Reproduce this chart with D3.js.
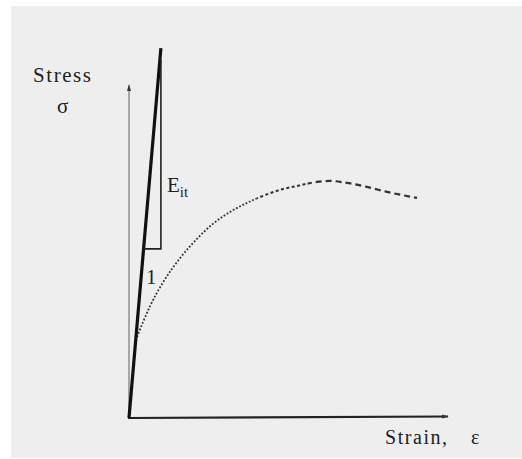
<!DOCTYPE html>
<html>
<head>
<meta charset="utf-8">
<script src="https://cdn.jsdelivr.net/npm/d3@7"></script>
<style>
  body { margin: 0; background: #fff; }
  text { font-family: "Liberation Serif", "Times New Roman", Times, "DejaVu Serif", serif; }
</style>
</head>
<body>
<div id="chart"></div>
<script>
var svgWidth = 522;
var svgHeight = 459;

// stress-strain curve (arbitrary units, 0..100)
var curveStrain = [2.5, 4.4, 6.6, 10.7, 16.0, 21.3, 26.3, 31.7, 37.0, 42.0, 47.3, 52.7, 58.9, 63.0, 68.3, 74.6, 80.9, 90.3];
var curveStress = [24.3, 28.8, 33.6, 40.8, 48.0, 53.8, 58.3, 61.9, 64.6, 66.7, 68.5, 69.7, 70.9, 71.2, 70.6, 69.4, 67.9, 66.1];

// initial tangent line E_it and its slope triangle
var tangentStrain = [0, 10.0];
var tangentStress = [0, 111.1];
var triStrain = [4.57, 10.0, 10.0];
var triStress = [50.8, 50.8, 107.5];

var svg = d3.select("#chart")
  .append("svg")
  .attr("width", svgWidth)
  .attr("height", svgHeight);

// scanned page background
svg.append("rect")
  .attr("x", 11).attr("y", 6)
  .attr("width", 511).attr("height", 452)
  .attr("fill", "#eeeeee");

var x = d3.scaleLinear().domain([0, 100]).range([129, 448]);
var y = d3.scaleLinear().domain([0, 100]).range([418, 85]);

var defs = svg.append("defs");
defs.append("marker")
  .attr("id", "arrow")
  .attr("viewBox", "0 0 10 10")
  .attr("refX", 9).attr("refY", 5)
  .attr("markerWidth", 7).attr("markerHeight", 7)
  .attr("markerUnits", "userSpaceOnUse")
  .attr("orient", "auto")
  .append("path")
  .attr("d", "M0,2 L10,5 L0,8 Z")
  .attr("fill", "#333");

// strain ranges with different dash styles (dotted rise, dashed near peak)
var parts = [
  { lo: 0, hi: 40, dash: "1.8,1.8", w: 1.8 },
  { lo: 40, hi: 56, dash: "3,2.5", w: 2 },
  { lo: 56, hi: 100, dash: "6,4", w: 2.2 }
];
parts.forEach(function(p, i) {
  defs.append("clipPath").attr("id", "clip" + i)
    .append("rect")
    .attr("x", x(p.lo)).attr("y", 0)
    .attr("width", x(p.hi) - x(p.lo)).attr("height", svgHeight);
});

// axes
svg.append("line")
  .attr("x1", x(0)).attr("y1", y(0))
  .attr("x2", x(0)).attr("y2", y(100))
  .attr("stroke", "#777").attr("stroke-width", 1.2)
  .attr("marker-end", "url(#arrow)");

svg.append("line")
  .attr("x1", x(0) - 1).attr("y1", y(0))
  .attr("x2", x(100)).attr("y2", y(0) - 1.5)
  .attr("stroke", "#222").attr("stroke-width", 2.2)
  .attr("marker-end", "url(#arrow)");

var line = d3.line()
  .x(d => x(d[0]))
  .y(d => y(d[1]))
  .curve(d3.curveMonotoneX);

var curvePts = curveStrain.map((s, i) => [s, curveStress[i]]);

parts.forEach(function(p, i) {
  svg.append("path")
    .attr("d", line(curvePts))
    .attr("clip-path", "url(#clip" + i + ")")
    .attr("fill", "none")
    .attr("stroke", "#333")
    .attr("stroke-width", p.w)
    .attr("stroke-dasharray", p.dash);
});

// initial tangent
svg.append("line")
  .attr("x1", x(tangentStrain[0])).attr("y1", y(tangentStress[0]))
  .attr("x2", x(tangentStrain[1])).attr("y2", y(tangentStress[1]))
  .attr("stroke", "#111").attr("stroke-width", 3.2);

// slope triangle
svg.append("path")
  .attr("d", d3.line()(triStrain.map((s, i) => [x(s), y(triStress[i])])))
  .attr("fill", "none")
  .attr("stroke", "#222").attr("stroke-width", 1.6);

// labels
function label(tx, ty, size, str) {
  return svg.append("text")
    .attr("x", tx).attr("y", ty)
    .attr("font-size", size)
    .attr("fill", "#222")
    .text(str);
}
label(33, 82, 21, "Stress").attr("textLength", 58).attr("lengthAdjust", "spacing");
label(57, 113, 21, "σ");

var eit = label(167, 192, 21, "E");
eit.append("tspan").attr("font-size", 15).attr("dy", 5).text("it");

label(146, 284, 21, "1");

label(385, 444, 20, "Strain,").attr("textLength", 62).attr("lengthAdjust", "spacing");
label(471, 444, 20, "ε");
</script>
</body>
</html>
